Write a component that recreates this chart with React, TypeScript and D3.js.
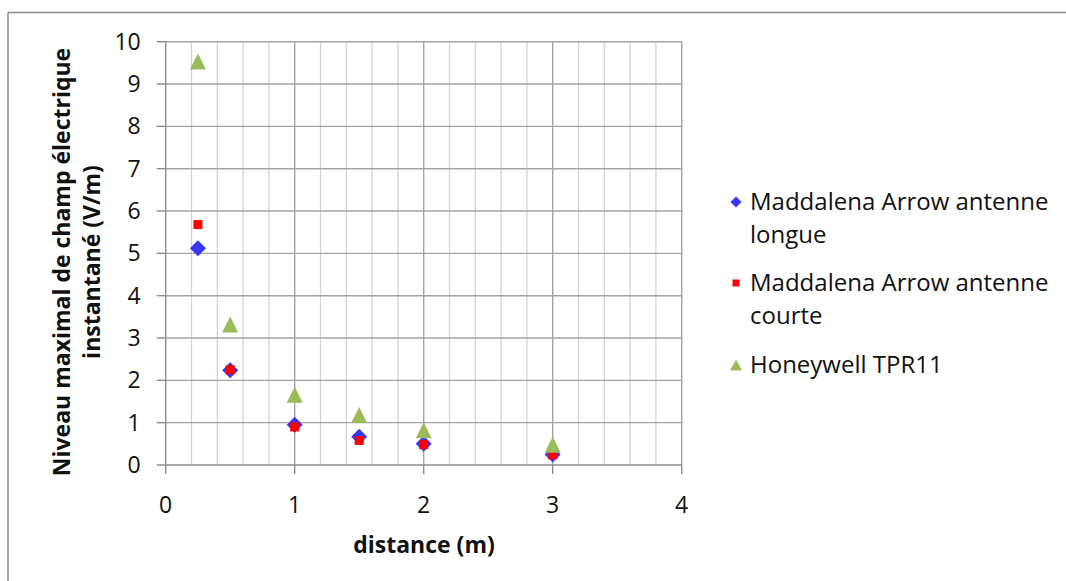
import React from "react";
import * as d3 from "d3";

const distances = [0.25, 0.5, 1, 1.5, 2, 3];
const longue = [5.12, 2.24, 0.95, 0.67, 0.5, 0.25];
const courte = [5.68, 2.25, 0.9, 0.58, 0.48, 0.24];
const honeywell = [9.53, 3.32, 1.66, 1.18, 0.82, 0.48];
const seriesNames = [
  ["Maddalena Arrow antenne", "longue"],
  ["Maddalena Arrow antenne", "courte"],
  ["Honeywell TPR11"],
];
const xTicks = [0, 1, 2, 3, 4];
const yTicks = [0, 1, 2, 3, 4, 5, 6, 7, 8, 9, 10];
const yTitle = ["Niveau maximal  de champ électrique", "instantané  (V/m)"];
const xTitle = "distance (m)";

const W = 1066;
const H = 581;
const FONT = "'Open Sans', sans-serif";

const x = d3.scaleLinear().domain([0, 4]).range([165.7, 681.7]);
const y = d3.scaleLinear().domain([0, 10]).range([465, 41.7]);

function diamond(s: number) {
  const p = d3.path();
  p.moveTo(0, -s);
  p.lineTo(s, 0);
  p.lineTo(0, s);
  p.lineTo(-s, 0);
  p.closePath();
  return p.toString();
}
function square(s: number) {
  const p = d3.path();
  p.rect(-s, -s, 2 * s, 2 * s);
  return p.toString();
}
function triangle(w: number, h: number) {
  const p = d3.path();
  p.moveTo(0, -h / 2);
  p.lineTo(w / 2, h / 2);
  p.lineTo(-w / 2, h / 2);
  p.closePath();
  return p.toString();
}

export default function App() {
  const minorX = d3.range(0, 4.0001, 0.2).filter((v) => Math.abs(v - Math.round(v)) > 1e-6);
  const series = [
    { data: longue, color: "#3636FF", path: diamond(8), legend: diamond(5.5) },
    { data: courte, color: "#FF0000", path: square(4.5), legend: square(3.5) },
    { data: honeywell, color: "#9BBB59", path: triangle(16, 16), legend: triangle(12, 11) },
  ];
  const legendY = [202, 283, 365];
  return (
    <svg
      width={W}
      height={H}
      style={{ position: "absolute", left: 0, top: 0, background: "#fff" }}
    >
      <rect x={0} y={0} width={W} height={H} fill="#fff" />
      {/* outer border */}
      <line x1={8} y1={12.5} x2={W} y2={12.5} stroke="#8a8a8a" strokeWidth={1.5} />
      <line x1={8} y1={12.5} x2={8} y2={H} stroke="#8a8a8a" strokeWidth={1.5} />

      {/* minor vertical grid */}
      {minorX.map((v, i) => (
        <line key={"mx" + i} x1={x(v)} x2={x(v)} y1={y(10)} y2={y(0)} stroke="#d4d4d4" strokeWidth={1.3} />
      ))}
      {/* major vertical grid */}
      {xTicks.slice(1).map((v) => (
        <line key={"vx" + v} x1={x(v)} x2={x(v)} y1={y(10)} y2={y(0)} stroke="#a3a3a3" strokeWidth={1.4} />
      ))}
      {/* horizontal grid */}
      {yTicks.slice(1).map((v) => (
        <line key={"hy" + v} x1={x(0)} x2={x(4)} y1={y(v)} y2={y(v)} stroke="#a3a3a3" strokeWidth={1.4} />
      ))}
      {/* axes */}
      <line x1={x(0)} x2={x(4)} y1={y(0)} y2={y(0)} stroke="#8c8c8c" strokeWidth={1.4} />
      <line x1={x(0)} x2={x(0)} y1={y(10)} y2={y(0)} stroke="#8c8c8c" strokeWidth={1.4} />
      {yTicks.map((v) => (
        <line key={"yt" + v} x1={x(0) - 9} x2={x(0)} y1={y(v)} y2={y(v)} stroke="#8c8c8c" strokeWidth={1.4} />
      ))}
      {xTicks.map((v) => (
        <line key={"xt" + v} x1={x(v)} x2={x(v)} y1={y(0)} y2={y(0) + 9} stroke="#8c8c8c" strokeWidth={1.4} />
      ))}

      {/* tick labels */}
      {yTicks.map((v) => (
        <text key={"yl" + v} x={x(0) - 25} y={y(v)} dy="0.35em" textAnchor="end" fontFamily={FONT} fontSize={23} fill="#111">
          {v}
        </text>
      ))}
      {xTicks.map((v) => (
        <text key={"xl" + v} x={x(v)} y={y(0) + 40} dy="0.35em" textAnchor="middle" fontFamily={FONT} fontSize={23} fill="#111">
          {v}
        </text>
      ))}

      {/* axis titles */}
      <text x={424} y={545} dy="0.35em" textAnchor="middle" fontFamily={FONT} fontSize={23} fontWeight="bold" fill="#111">
        {xTitle}
      </text>
      <g transform="translate(62,262) rotate(-90)">
        {yTitle.map((t, i) => (
          <text key={i} x={0} y={i * 30} dy="0.35em" textAnchor="middle" fontFamily={FONT} fontSize={23} fontWeight="bold" fill="#111">
            {t}
          </text>
        ))}
      </g>

      {/* data points */}
      {series.map((s, si) => (
        <g key={"s" + si}>
          {distances.map((d, i) => (
            <path key={i} d={s.path} transform={`translate(${x(d)},${y(s.data[i])})`} fill={s.color} />
          ))}
        </g>
      ))}

      {/* legend */}
      {series.map((s, si) => (
        <g key={"lg" + si}>
          <path d={s.legend} transform={`translate(736,${legendY[si]})`} fill={s.color} />
          {seriesNames[si].map((t, li) => (
            <text key={li} x={750} y={legendY[si] + li * 33} dy="0.35em" fontFamily={FONT} fontSize={24} fill="#111">
              {t}
            </text>
          ))}
        </g>
      ))}
    </svg>
  );
}
